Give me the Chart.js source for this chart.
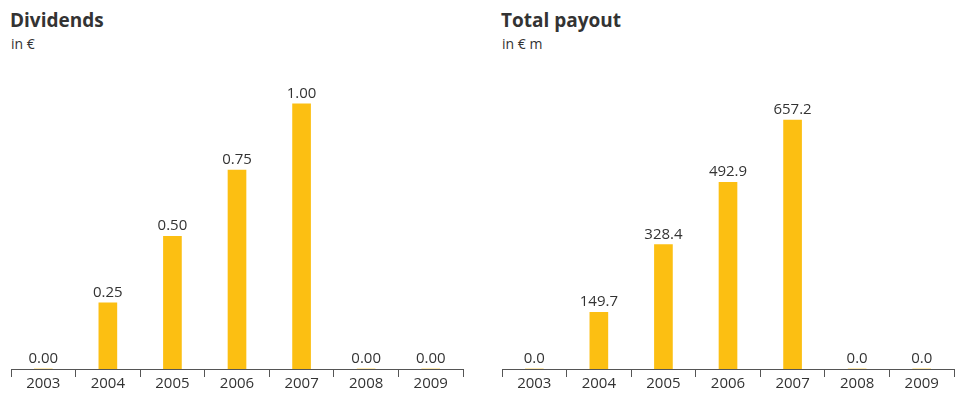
<!DOCTYPE html>
<html>
<head>
<meta charset="utf-8">
<script src="https://cdn.jsdelivr.net/npm/chart.js@4.4.1/dist/chart.umd.min.js"></script>
<style>
  html, body { margin:0; padding:0; background:#fff; }
  body { width:958px; height:416px; position:relative; overflow:hidden; font-family:"Open Sans", sans-serif; color:#333; }
  .title { position:absolute; top:7px; font-weight:bold; font-size:19px; line-height:26px; color:#333; }
  .sub { position:absolute; top:34px; font-size:14px; line-height:20px; color:#333; }
  canvas { position:absolute; top:0; }
</style>
</head>
<body>
<div class="title" style="left:10px">Dividends</div>
<div class="sub" style="left:11px">in €</div>
<div class="title" style="left:501px">Total payout</div>
<div class="sub" style="left:502px">in € m</div>
<canvas id="c1" width="475" height="416" style="left:0px"></canvas>
<canvas id="c2" width="475" height="416" style="left:491px"></canvas>
<script>
const years = ["2003","2004","2005","2006","2007","2008","2009"];
const dividends = [0.00, 0.25, 0.50, 0.75, 1.00, 0.00, 0.00];
const payout = [0.0, 149.7, 328.4, 492.9, 657.2, 0.0, 0.0];
const dividendsMax = 1.09;
const payoutMax = 763;

const barColor = "#FCBF12";
const textColor = "#333333";
const axisColor = "#555555";

function valueLabels(decimals) {
  return {
    id: "valueLabels",
    afterDatasetsDraw(chart) {
      const ctx = chart.ctx;
      const meta = chart.getDatasetMeta(0);
      const data = chart.data.datasets[0].data;
      ctx.save();
      ctx.font = "15px 'Open Sans', sans-serif";
      ctx.fillStyle = textColor;
      ctx.textAlign = "center";
      ctx.textBaseline = "alphabetic";
      meta.data.forEach((bar, i) => {
        ctx.fillText(data[i].toFixed(decimals), bar.x, bar.y - 6);
      });
      ctx.restore();
    }
  };
}

function makeChart(id, values, ymax, decimals) {
  new Chart(document.getElementById(id), {
    type: "bar",
    data: { labels: years, datasets: [{ data: values, backgroundColor: barColor, barThickness: 18, borderWidth: 0 }] },
    options: {
      responsive: false,
      animation: false,
      layout: { padding: { left: 11, right: 12, top: 80, bottom: 25 } },
      plugins: { legend: { display: false }, tooltip: { enabled: false } },
      scales: {
        x: {
          grid: { offset: true, drawOnChartArea: false, tickLength: 8, color: axisColor, lineWidth: 1 },
          border: { display: true, color: axisColor, width: 1 },
          ticks: { color: textColor, font: { family: "'Open Sans', sans-serif", size: 15 }, padding: -2, maxRotation: 0 }
        },
        y: { display: false, min: 0, max: ymax }
      }
    },
    plugins: [valueLabels(decimals)]
  });
}

makeChart("c1", dividends, dividendsMax, 2);
makeChart("c2", payout, payoutMax, 1);
</script>
</body>
</html>
